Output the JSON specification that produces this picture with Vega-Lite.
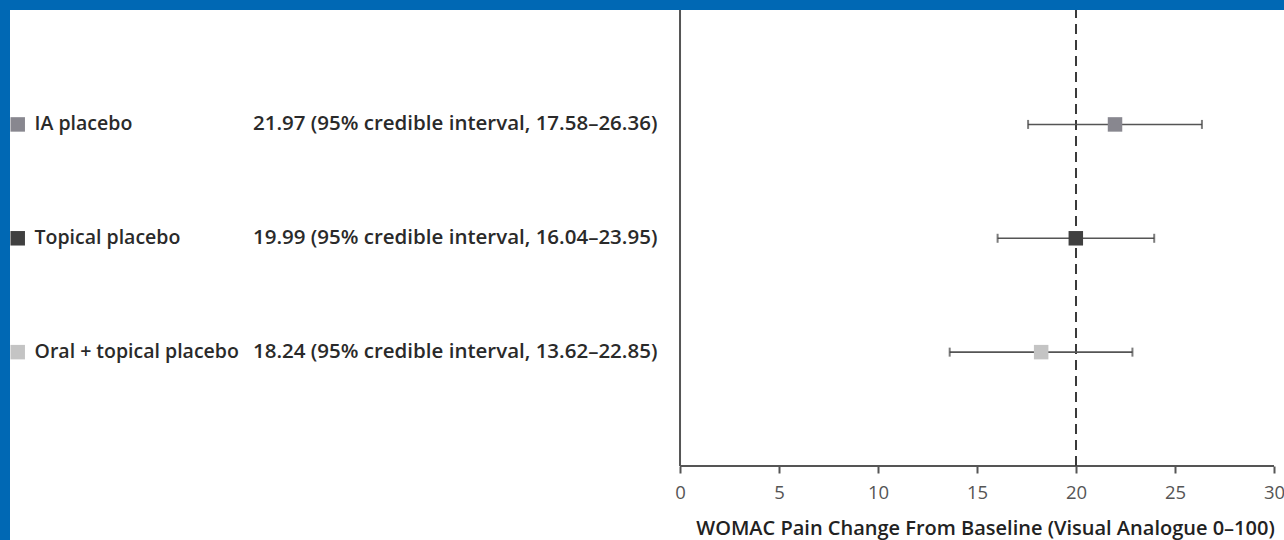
{
  "$schema": "https://vega.github.io/schema/vega-lite/v6.json",
  "width": 1274,
  "height": 530,
  "autosize": {"type": "none"},
  "padding": {"left": 10, "top": 10, "right": 0, "bottom": 0},
  "background": "#0068b4",
  "config": {
    "view": {"fill": "white", "stroke": null},
    "font": "Open Sans"
  },
  "data": {
    "values": [
      {"group": "IA placebo", "rank": 3, "est": 21.97, "lo": 17.58, "hi": 26.36},
      {"group": "Topical placebo", "rank": 2, "est": 19.99, "lo": 16.04, "hi": 23.95},
      {"group": "Oral + topical placebo", "rank": 1, "est": 18.24, "lo": 13.62, "hi": 22.85}
    ]
  },
  "transform": [
    {
      "calculate": "format(datum.est, '.2f') + ' (95% credible interval, ' + format(datum.lo, '.2f') + '\u2013' + format(datum.hi, '.2f') + ')'",
      "as": "summary"
    }
  ],
  "layer": [
    {
      "description": "x axis line with ticks and title",
      "data": {"values": [{}]},
      "mark": {"type": "rule", "color": "#555555", "strokeWidth": 2},
      "encoding": {
        "x": {
          "datum": 0,
          "type": "quantitative",
          "scale": {"domain": [-33.84, 30.505], "nice": false, "zero": false},
          "axis": {
            "values": [0, 5, 10, 15, 20, 25, 30],
            "domain": false,
            "grid": false,
            "offset": -74,
            "ticks": true,
            "tickSize": 7,
            "tickWidth": 2,
            "tickColor": "#555555",
            "labelFontSize": 18.5,
            "labelColor": "#555555",
            "labelPadding": 10,
            "title": "WOMAC Pain Change From Baseline (Visual Analogue 0\u2013100)",
            "titleFontSize": 20,
            "titleFontWeight": 600,
            "titleColor": "#222222",
            "titleX": 975,
            "titleY": 52,
            "titleAlign": "center",
            "titleBaseline": "top"
          }
        },
        "x2": {"datum": 30},
        "y": {
          "datum": 0,
          "type": "quantitative",
          "scale": {"domain": [-0.65, 4.005], "nice": false, "zero": false},
          "axis": null
        }
      }
    },
    {
      "description": "y axis line",
      "data": {"values": [{}]},
      "mark": {"type": "rule", "color": "#555555", "strokeWidth": 2},
      "encoding": {
        "x": {"datum": 0, "type": "quantitative"},
        "y": {"datum": 0, "type": "quantitative"},
        "y2": {"datum": 4.005}
      }
    },
    {
      "description": "reference line at 20",
      "data": {"values": [{}]},
      "mark": {"type": "rule", "color": "#3a3a3a", "strokeWidth": 2, "strokeDash": [10, 6]},
      "encoding": {
        "x": {"datum": 20, "type": "quantitative"},
        "y": {"datum": 0, "type": "quantitative"},
        "y2": {"datum": 4.005}
      }
    },
    {
      "mark": {"type": "rule", "color": "#555555", "strokeWidth": 1.6},
      "encoding": {
        "x": {"field": "lo", "type": "quantitative"},
        "x2": {"field": "hi"},
        "y": {"field": "rank", "type": "quantitative"}
      }
    },
    {
      "mark": {"type": "tick", "orient": "vertical", "color": "#444444", "size": 9, "thickness": 2},
      "encoding": {
        "x": {"field": "lo", "type": "quantitative"},
        "y": {"field": "rank", "type": "quantitative"}
      }
    },
    {
      "mark": {"type": "tick", "orient": "vertical", "color": "#444444", "size": 9, "thickness": 2},
      "encoding": {
        "x": {"field": "hi", "type": "quantitative"},
        "y": {"field": "rank", "type": "quantitative"}
      }
    },
    {
      "mark": {"type": "point", "shape": "square", "filled": true, "opacity": 1, "size": 210},
      "encoding": {
        "x": {"field": "est", "type": "quantitative"},
        "y": {"field": "rank", "type": "quantitative"},
        "color": {
          "field": "group",
          "type": "nominal",
          "scale": {
            "domain": ["IA placebo", "Topical placebo", "Oral + topical placebo"],
            "range": ["#88878f", "#404040", "#c4c4c4"]
          },
          "legend": null
        }
      }
    },
    {
      "mark": {"type": "point", "shape": "square", "filled": true, "opacity": 1, "size": 210},
      "encoding": {
        "x": {"datum": -33.45, "type": "quantitative"},
        "y": {"field": "rank", "type": "quantitative"},
        "color": {"field": "group", "type": "nominal"}
      }
    },
    {
      "mark": {"type": "text", "align": "left", "baseline": "middle", "fontSize": 19.5, "fontWeight": 600, "color": "#2a2a2a"},
      "encoding": {
        "x": {"datum": -32.6, "type": "quantitative"},
        "y": {"field": "rank", "type": "quantitative"},
        "text": {"field": "group"}
      }
    },
    {
      "mark": {"type": "text", "align": "left", "baseline": "middle", "fontSize": 20.5, "fontWeight": 600, "color": "#2a2a2a"},
      "encoding": {
        "x": {"datum": -21.57, "type": "quantitative"},
        "y": {"field": "rank", "type": "quantitative"},
        "text": {"field": "summary"}
      }
    }
  ]
}
